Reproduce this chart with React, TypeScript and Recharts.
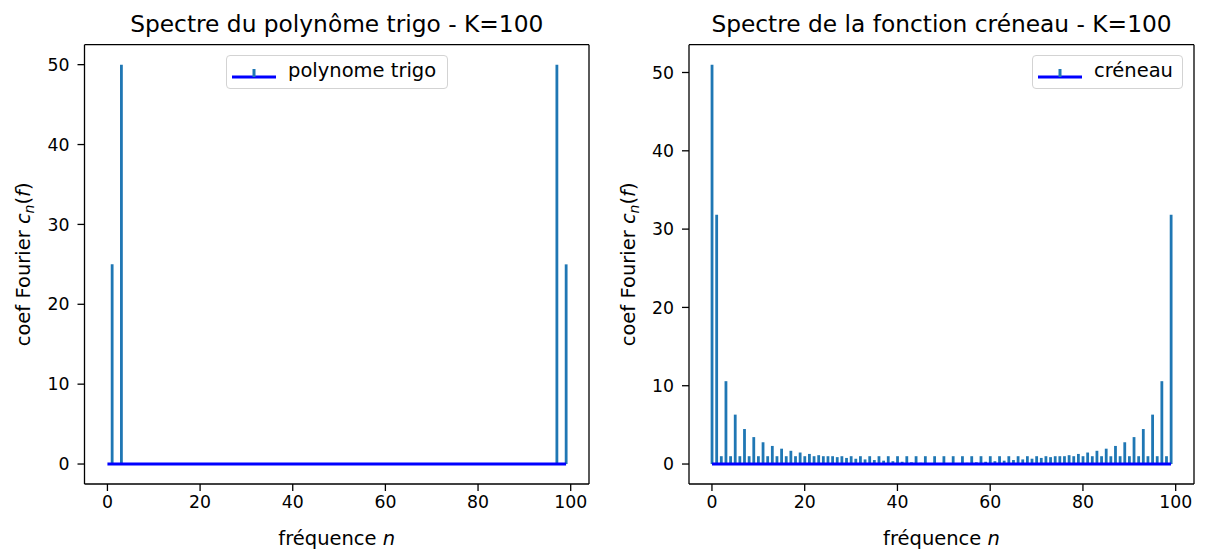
import React from 'react';
import { ComposedChart, Bar, Line, XAxis, YAxis, Legend } from 'recharts';

// ---- data ----
const frequencies: number[] = Array.from({ length: 100 }, (_, i) => i);

const polyTrigoValues: number[] = [
  0, 25, 0, 50, 0, 0, 0, 0, 0, 0,
  0, 0, 0, 0, 0, 0, 0, 0, 0, 0,
  0, 0, 0, 0, 0, 0, 0, 0, 0, 0,
  0, 0, 0, 0, 0, 0, 0, 0, 0, 0,
  0, 0, 0, 0, 0, 0, 0, 0, 0, 0,
  0, 0, 0, 0, 0, 0, 0, 0, 0, 0,
  0, 0, 0, 0, 0, 0, 0, 0, 0, 0,
  0, 0, 0, 0, 0, 0, 0, 0, 0, 0,
  0, 0, 0, 0, 0, 0, 0, 0, 0, 0,
  0, 0, 0, 0, 0, 0, 0, 50, 0, 25,
];

const creneauValues: number[] = [
  51, 31.82, 1, 10.58, 1, 6.31, 1, 4.47, 1, 3.44,
  1, 2.78, 1, 2.31, 1, 1.96, 1, 1.69, 1, 1.47,
  1, 1.29, 1, 1.13, 1, 1.0, 1, 0.88, 1, 0.78,
  1, 0.68, 1, 0.59, 1, 0.51, 1, 0.43, 1, 0.36,
  1, 0.29, 1, 0.22, 1, 0.16, 1, 0.09, 1, 0.03,
  1, 0.03, 1, 0.09, 1, 0.16, 1, 0.22, 1, 0.29,
  1, 0.36, 1, 0.43, 1, 0.51, 1, 0.59, 1, 0.68,
  1, 0.78, 1, 0.88, 1, 1.0, 1, 1.13, 1, 1.29,
  1, 1.47, 1, 1.69, 1, 1.96, 1, 2.31, 1, 2.78,
  1, 3.44, 1, 4.47, 1, 6.31, 1, 10.58, 1, 31.82,
];

const xTicks: number[] = [0, 20, 40, 60, 80, 100];
const yTicks: number[] = [0, 10, 20, 30, 40, 50];

const leftTitle = 'Spectre du polynôme trigo - K=100';
const rightTitle = 'Spectre de la fonction créneau - K=100';
const leftLegend = 'polynome trigo';
const rightLegend = 'créneau';

const leftData = frequencies.map((n, i) => ({ n, c: polyTrigoValues[i], zero: 0 }));
const rightData = frequencies.map((n, i) => ({ n, c: creneauValues[i], zero: 0 }));

// ---- styles ----
const FONT = '"DejaVu Sans", sans-serif';
const STEM = '#1f77b4';
const BASE = '#0000ff';

const TitleLabel = (text: string) => (props: any) => {
  const vb = props.viewBox || {};
  return (
    <text
      x={vb.x + vb.width / 2}
      y={32}
      textAnchor="middle"
      fontFamily={FONT}
      fontSize={23.3}
      fill="#000"
    >
      {text}
    </text>
  );
};

const YLabel = (props: any) => {
  const vb = props.viewBox || {};
  const x = vb.x + vb.width - 54;
  const y = vb.y + vb.height / 2;
  return (
    <text
      x={x}
      y={y}
      textAnchor="middle"
      transform={`rotate(-90 ${x} ${y})`}
      fontFamily={FONT}
      fontSize={19.5}
      fill="#000"
    >
      coef Fourier <tspan fontStyle="italic">c</tspan>
      <tspan fontStyle="italic" fontSize={14} dy={4}>n</tspan>
      <tspan dy={-4}>(</tspan>
      <tspan fontStyle="italic">f</tspan>
      <tspan>)</tspan>
    </text>
  );
};

const XLabel = (props: any) => {
  const vb = props.viewBox || {};
  return (
    <text
      x={vb.x + vb.width / 2}
      y={vb.y + 61}
      textAnchor="middle"
      fontFamily={FONT}
      fontSize={19.5}
      fill="#000"
    >
      fréquence <tspan fontStyle="italic">n</tspan>
    </text>
  );
};

const StemLegend = (label: string, w: number) => () => (
  <div
    style={{
      position: 'relative',
      width: w,
      height: 34,
      boxSizing: 'border-box',
      border: '1px solid #d3d3d3',
      borderRadius: 4,
      background: 'rgba(255,255,255,0.8)',
      fontFamily: FONT,
      fontSize: 19.5,
      color: '#000',
    }}
  >
    <svg width={44} height={16} style={{ position: 'absolute', left: 5, top: 8 }}>
      <line x1={0} y1={13} x2={44} y2={13} stroke={BASE} strokeWidth={3} />
      <line x1={22} y1={5} x2={22} y2={13} stroke={STEM} strokeWidth={3} />
    </svg>
    <span style={{ position: 'absolute', left: 61, top: 2, whiteSpace: 'nowrap', lineHeight: '26px' }}>
      {label}
    </span>
  </div>
);

interface PanelProps {
  data: { n: number; c: number; zero: number }[];
  left: number;
  width: number;
  yAxisWidth: number;
  marginRight: number;
  yDomain: [number, number];
  title: string;
  legendLabel: string;
  legendLeft: number;
  legendWidth: number;
}

const Panel = (p: PanelProps) => {
  const xDomain: [number, number] = [-4.95, 103.95];
  const tickStyle = { fontFamily: FONT, fontSize: 17.3, fill: '#000' };
  return (
    <div style={{ position: 'absolute', left: p.left, top: 0, width: p.width, height: 550 }}>
      <ComposedChart
        width={p.width}
        height={550}
        data={p.data}
        margin={{ top: 43.7, right: p.marginRight, bottom: 0, left: 0 }}
        style={{ fontFamily: FONT }}
      >
        <XAxis
          dataKey="n"
          type="number"
          domain={xDomain}
          allowDataOverflow
          ticks={xTicks}
          interval={0}
          height={66}
          tickSize={7}
          tickMargin={5}
          tick={tickStyle}
          axisLine={{ stroke: '#000', strokeWidth: 1.3 }}
          tickLine={{ stroke: '#000', strokeWidth: 1.3 }}
          label={XLabel}
        />
        <XAxis
          xAxisId="top"
          dataKey="n"
          orientation="top"
          type="number"
          domain={xDomain}
          allowDataOverflow
          height={1}
          tick={false}
          tickLine={false}
          axisLine={{ stroke: '#000', strokeWidth: 1.3 }}
          label={TitleLabel(p.title)}
        />
        <YAxis
          type="number"
          domain={p.yDomain}
          allowDataOverflow
          ticks={yTicks}
          interval={0}
          width={p.yAxisWidth}
          tickSize={7}
          tickMargin={8}
          tick={tickStyle}
          axisLine={{ stroke: '#000', strokeWidth: 1.3 }}
          tickLine={{ stroke: '#000', strokeWidth: 1.3 }}
          label={YLabel}
        />
        <YAxis
          yAxisId="right"
          orientation="right"
          type="number"
          domain={p.yDomain}
          allowDataOverflow
          width={1}
          tick={false}
          tickLine={false}
          axisLine={{ stroke: '#000', strokeWidth: 1.3 }}
        />
        <Bar dataKey="c" name={p.legendLabel} fill={STEM} barSize={2.8} isAnimationActive={false} />
        <Line
          xAxisId="top"
          yAxisId="right"
          dataKey="zero"
          stroke={BASE}
          strokeWidth={3}
          dot={false}
          activeDot={false}
          legendType="none"
          isAnimationActive={false}
        />
        <Legend
          layout="vertical"
          align="center"
          verticalAlign="middle"
          content={StemLegend(p.legendLabel, p.legendWidth)}
          wrapperStyle={{ left: p.legendLeft, top: 55, width: p.legendWidth, height: 34 }}
        />
      </ComposedChart>
    </div>
  );
};

export default function App() {
  return (
    <div style={{ position: 'absolute', left: 0, top: 0, width: 1207, height: 550, background: '#fff' }}>
      <Panel
        data={leftData}
        left={0}
        width={600}
        yAxisWidth={84.5}
        marginRight={10}
        yDomain={[-2.5, 52.5]}
        title={leftTitle}
        legendLabel={leftLegend}
        legendLeft={226}
        legendWidth={222}
      />
      <Panel
        data={rightData}
        left={600}
        width={607}
        yAxisWidth={89}
        marginRight={12}
        yDomain={[-2.55, 53.55]}
        title={rightTitle}
        legendLabel={rightLegend}
        legendLeft={432}
        legendWidth={151}
      />
    </div>
  );
}
